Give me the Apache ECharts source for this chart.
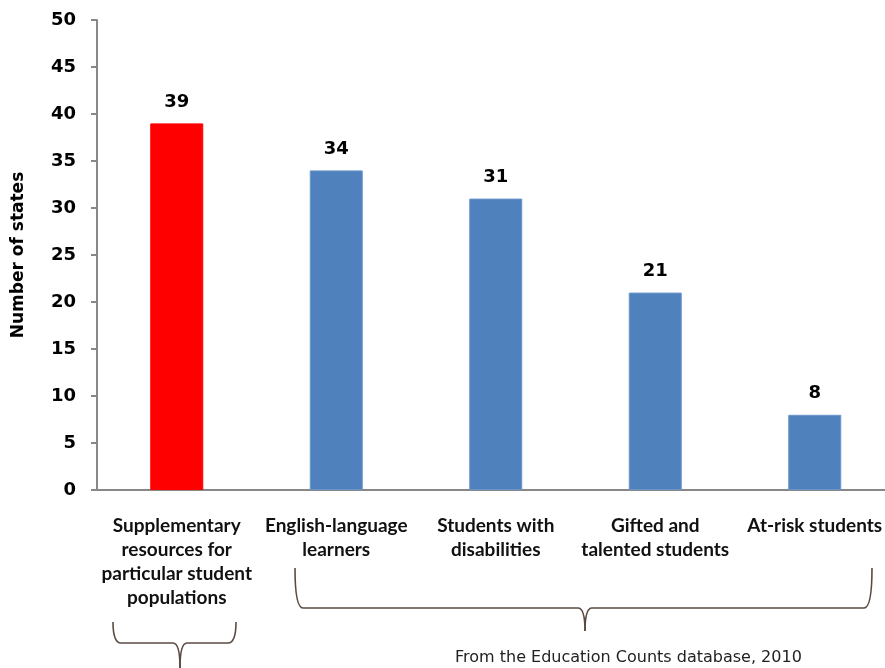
<!DOCTYPE html>
<html>
<head>
<meta charset="utf-8">
<script src="https://cdn.jsdelivr.net/npm/echarts@6/dist/echarts.min.js"></script>
<style>
html,body{margin:0;padding:0;background:#fff;}
#chart{width:885px;height:668px;}
</style>
</head>
<body>
<div id="chart"></div>
<script>
const categories = [
  "Supplementary\nresources for\nparticular student\npopulations",
  "English-language\nlearners",
  "Students with\ndisabilities",
  "Gifted and\ntalented students",
  "At-risk students"
];
const values = [39, 34, 31, 21, 8];
const highlightIndex = 0;
const yAxisTitle = "Number of states";
const yMin = 0, yMax = 50, yStep = 5;
const caption = "From the Education Counts database, 2010";

const chart = echarts.init(document.getElementById('chart'));
const braceColor = '#5b4a42';
const braceStyle = { stroke: braceColor, lineWidth: 1.6, fill: 'none' };

function brace(xl, xr, xm, yTop, yBar, yTip, r) {
  const els = [];
  const bez = (x1, y1, cx, cy, x2, y2) => els.push({
    type: 'bezierCurve',
    shape: { x1: x1, y1: y1, cpx1: cx, cpy1: cy, x2: x2, y2: y2 },
    style: braceStyle, silent: true
  });
  const ln = (x1, y1, x2, y2) => els.push({
    type: 'line', shape: { x1: x1, y1: y1, x2: x2, y2: y2 }, style: braceStyle, silent: true
  });
  bez(xl, yTop, xl, yBar, xl + r, yBar);
  ln(xl + r, yBar, xm - 7, yBar);
  bez(xm - 7, yBar, xm, yBar, xm, yTip);
  bez(xm, yTip, xm, yBar, xm + 7, yBar);
  ln(xm + 7, yBar, xr - r, yBar);
  bez(xr - r, yBar, xr, yBar, xr, yTop);
  return els;
}

const seriesData = values.map((v, i) => ({
  value: v,
  itemStyle: i === highlightIndex
    ? { color: '#FF0000', borderColor: '#FF0000', borderWidth: 1 }
    : { color: '#4F81BD', borderColor: '#6a96cc', borderWidth: 1 }
}));

chart.setOption({
  backgroundColor: '#ffffff',
  animation: false,
  grid: { left: 97, top: 20, right: -9.5, bottom: 178, containLabel: false, outerBoundsMode: 'none' },
  xAxis: {
    type: 'category',
    data: categories,
    axisLine: { lineStyle: { color: '#888888', width: 2 } },
    axisTick: { show: false },
    axisLabel: {
      interval: 0,
      margin: 24,
      fontFamily: 'Lato',
      fontWeight: 'bold',
      fontSize: 19,
      lineHeight: 24,
      color: '#111111',
      align: 'center'
    }
  },
  yAxis: {
    type: 'value',
    min: yMin, max: yMax, interval: yStep,
    name: yAxisTitle,
    nameLocation: 'middle',
    nameGap: 70,
    nameRotate: 90,
    nameTextStyle: { fontFamily: 'DejaVu Sans', fontWeight: 'bold', fontSize: 17, color: '#000' },
    axisLine: { show: true, lineStyle: { color: '#888888', width: 2 } },
    axisTick: { show: true, length: 6, lineStyle: { color: '#888888', width: 2 } },
    splitLine: { show: false },
    axisLabel: { margin: 21, fontFamily: 'DejaVu Sans', fontWeight: 'bold', fontSize: 18, color: '#000' }
  },
  series: [{
    type: 'bar',
    data: seriesData,
    barWidth: 53,
    label: {
      show: true,
      position: 'top',
      distance: 12,
      fontFamily: 'DejaVu Sans',
      fontWeight: 'bold',
      fontSize: 18,
      color: '#000'
    }
  }],
  graphic: [].concat(
    brace(113, 236, 180, 622, 643, 668, 8),
    brace(295, 872, 585, 568, 608, 631, 8),
    [{
      type: 'text',
      left: 455, top: 650,
      style: { text: caption, fontFamily: 'DejaVu Sans', fontSize: 16, fill: '#222' }
    }]
  )
});
</script>
</body>
</html>
